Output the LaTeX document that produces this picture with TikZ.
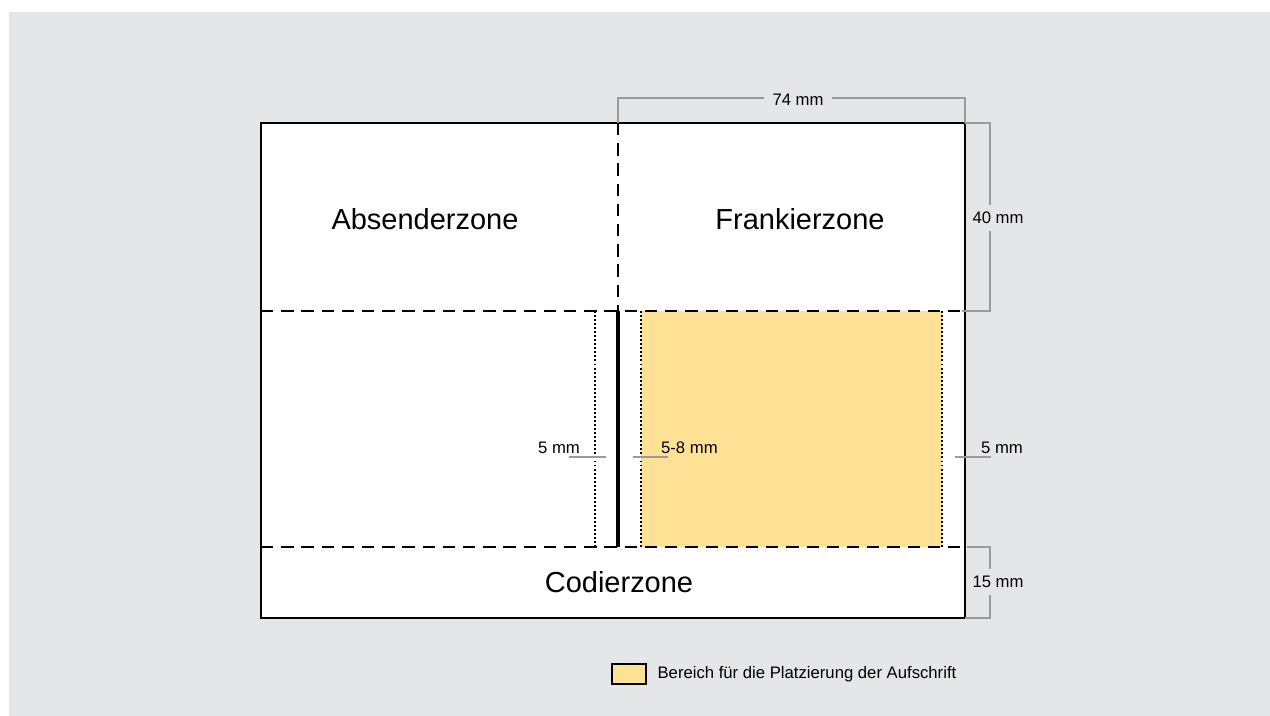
\documentclass[tikz,border=0pt]{standalone}
\usepackage{fontspec}
\setmainfont{Liberation Sans}
\usetikzlibrary{positioning}
\definecolor{bggray}{HTML}{E5E6E8}
\definecolor{zoneyellow}{HTML}{FEE195}
\definecolor{dimgray}{HTML}{9A9A9A}

\begin{document}
\begin{tikzpicture}[x=0.02cm, y=-0.02cm,
  zone label/.style={font=\fontsize{16.5}{19}\selectfont, inner sep=0pt},
  dim label/.style={font=\fontsize{9.5}{11}\selectfont, inner sep=1pt},
  dim line/.style={draw=dimgray, line width=0.6pt},
  zone border/.style={line width=0.8pt, dash pattern=on 7pt off 4.5pt},
  margin line/.style={line width=0.7pt, dash pattern=on 1.1pt off 1.2pt},
  legend box/.style={draw, line width=0.8pt, fill=zoneyellow,
    minimum width=0.68cm, minimum height=0.4cm, inner sep=0pt}]

\useasboundingbox (0,0) rectangle (1270,716);
\fill[bggray] (9,12) rectangle (1270,716);

% envelope and address area
\filldraw[fill=white, line width=1pt] (261,123) rectangle (965,618);
\fill[zoneyellow] (641,311) rectangle (942,547);

\draw[margin line] (595,311) -- (595,547);
\draw[margin line] (641,311) -- (641,547);
\draw[margin line] (942,311) -- (942,547);

\draw[zone border] (261,311) -- (965,311);
\draw[zone border] (261,547) -- (965,547);
\draw[zone border] (618,123) -- (618,311);
\draw[line width=2.3pt] (618,311) -- (618,547);

% zone names
\node[zone label] (absender) at (425,219) {Absenderzone};
\node[zone label] (frankier) at (800,219) {Frankierzone};
\node[zone label] (codier) at (619,582) {Codierzone};

% dimensions
\draw[dim line] (618,123) -- (618,98) -- (965,98) -- (965,123);
\node[dim label, fill=bggray, inner xsep=5pt] (dimtop) at (798,100) {74 mm};

\draw[dim line] (965,123) -- (990,123) -- (990,311) -- (962,311);
\node[dim label, fill=bggray, inner ysep=4pt] (dimfrank) at (998,218) {40 mm};

\draw[dim line] (967,547) -- (990,547) -- (990,618) -- (965,618);
\node[dim label, fill=bggray, inner ysep=4pt] (dimcode) at (998,582) {15 mm};

\draw[dim line] (955,457) -- (991,457);
\node[dim label, anchor=south west] (dimright) at (979,456) {5 mm};

\draw[dim line] (569,457) -- (606,457);
\node[dim label, anchor=south east] (dimleft) at (582,456) {5 mm};

\draw[dim line] (633,457) -- (668,457);
\node[dim label, anchor=south west] (dimgap) at (659,456) {5-8 mm};

% legend
\node[legend box] (legbox) at (629,674) {};
\node[dim label, right=5pt of legbox] (legtext) {Bereich für die Platzierung der Aufschrift};

\end{tikzpicture}
\end{document}
